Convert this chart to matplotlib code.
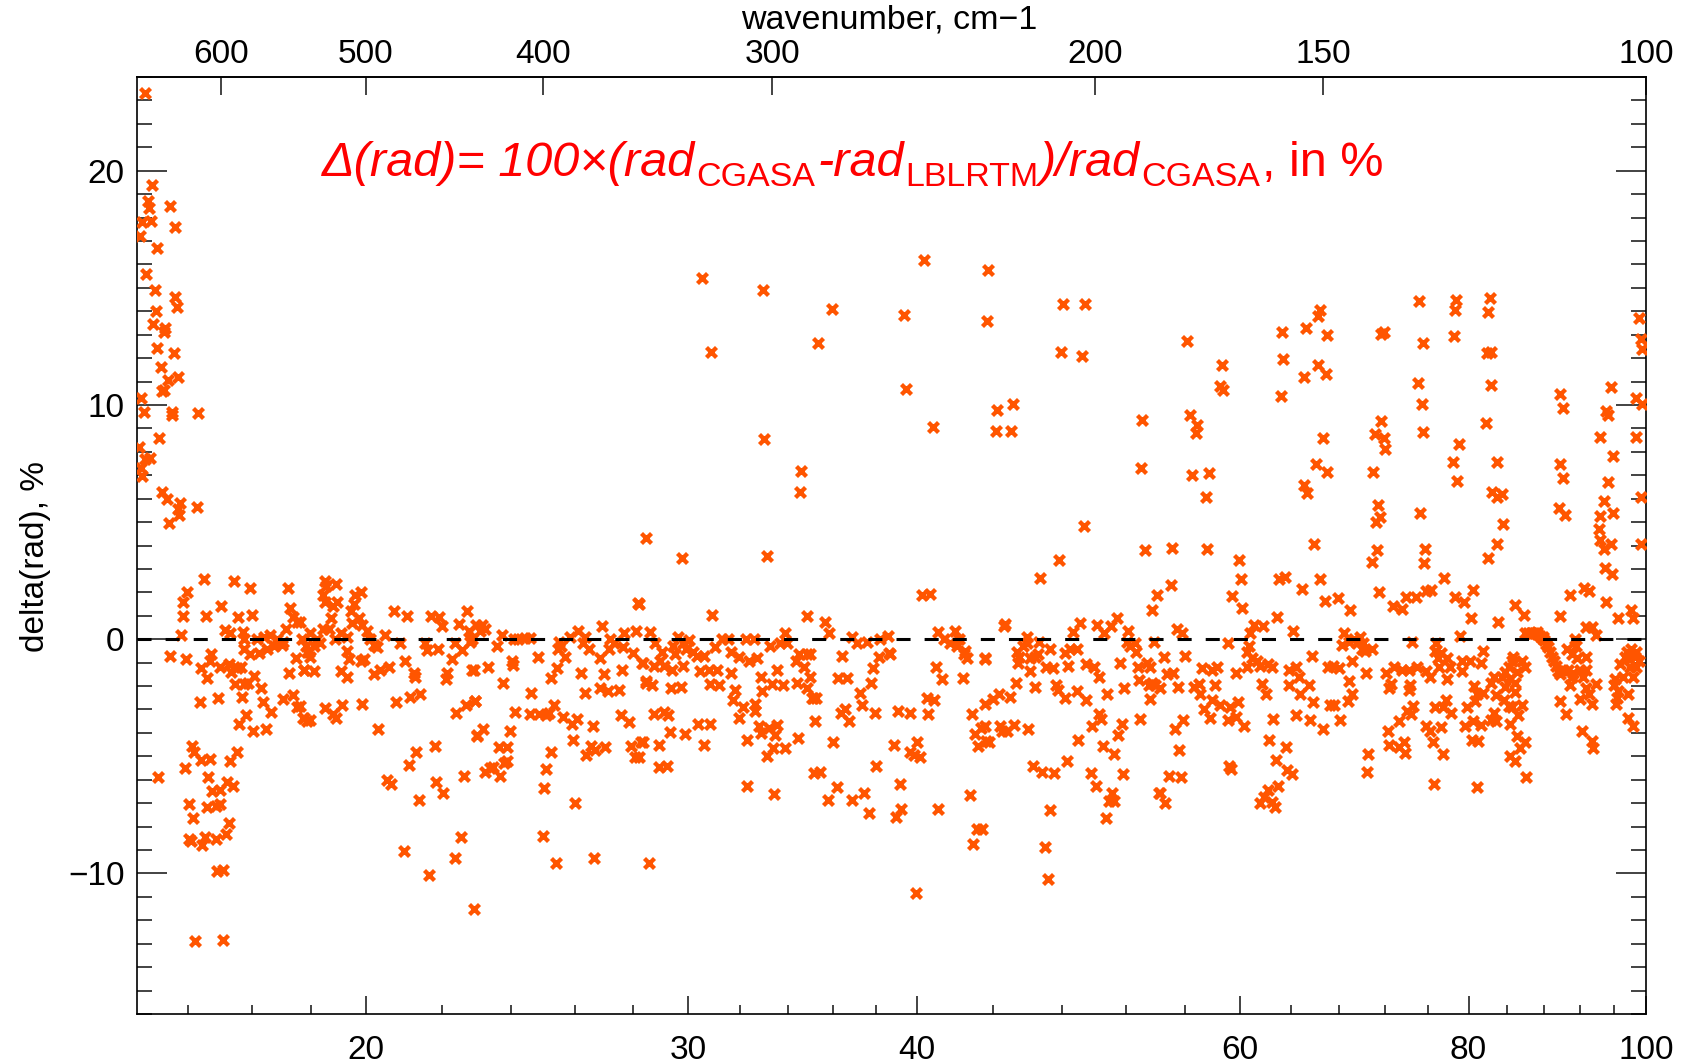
import matplotlib
matplotlib.use('Agg')
import matplotlib.pyplot as plt
import numpy as np
from matplotlib.ticker import FixedLocator, FixedFormatter, NullLocator

plt.rcParams['font.family'] = ['Liberation Sans', 'DejaVu Sans']

# ---------------- data: wavelength (micron) and delta(rad) (%) ----------------
# region 15-16.3 um, large positive outliers
wl_a = [15.15, 15.29, 15.20, 15.22, 15.63, 15.10, 15.26, 15.74, 15.05, 15.39, 15.18, 15.34, 15.73,
        15.77, 15.36, 15.31, 15.53, 15.51, 15.38, 15.71, 15.45, 15.59, 15.80, 15.48, 15.51, 15.07,
        15.13, 15.68, 15.68, 16.19, 15.43, 15.03, 15.16, 15.24, 15.07, 15.10, 15.48, 15.57, 15.84,
        15.80, 15.82, 15.61, 16.17]
dv_a = [23.3, 19.4, 18.7, 18.4, 18.5, 17.8, 17.85, 17.6, 17.2, 16.7, 15.6, 14.9, 14.6,
        14.2, 14.0, 13.45, 13.3, 13.1, 12.45, 12.2, 11.6, 11.05, 11.2, 10.6, 10.65, 10.3,
        9.7, 9.7, 9.55, 9.65, 8.6, 8.2, 7.7, 7.75, 7.3, 6.95, 6.3, 6.0, 5.8,
        5.55, 5.3, 4.95, 5.65]

# region 15.4-18.7 um
wl_b = [16.32, 15.98, 15.90, 15.90, 16.36, 16.68, 16.94, 17.28, 18.13, 18.19, 18.25, 18.35, 17.04,
        17.33, 18.10, 15.86, 16.76, 16.86, 17.14, 17.17, 17.45, 17.59, 17.74, 17.88, 18.03, 17.17,
        17.30, 17.48, 17.67, 17.81, 18.00, 18.46, 18.54, 18.61, 15.64, 15.96, 16.47, 16.45, 16.26,
        16.39, 16.66, 16.83, 16.88, 17.00, 17.09, 16.97, 17.17, 17.24, 17.37, 17.52, 18.16, 18.33,
        18.51, 16.24, 16.61, 17.11, 17.58, 17.75, 17.21, 17.06, 17.35, 17.63, 18.02, 18.25, 18.35,
        18.48, 18.57, 16.07, 16.12, 16.25, 16.45, 15.93, 15.40, 16.86, 17.01, 16.41, 16.80, 16.92,
        16.49, 16.66, 16.02, 16.37, 16.56, 16.64, 16.10, 16.84, 16.78, 16.02, 16.05, 16.33, 16.28,
        16.57, 16.59, 16.71, 16.14, 16.72]
dv_b = [2.55, 2.0, 1.6, 1.0, 1.0, 1.4, 2.5, 2.2, 2.2, 1.35, 0.95, 0.75, 0.95,
        1.05, 0.45, 0.2, 0.4, 0.25, 0.3, 0.0, 0.0, 0.1, 0.2, 0.0, -0.1, -0.4,
        -0.65, -0.6, -0.4, -0.3, -0.25, 0.0, -0.3, -0.55, -0.7, -0.85, -0.65, -0.95, -1.25,
        -1.65, -1.2, -1.05, -1.4, -1.25, -1.2, -1.9, -1.9, -1.85, -1.55, -2.1, -1.45, -0.8,
        -1.3, -2.7, -2.5, -2.45, -2.7, -3.1, -3.25, -3.6, -3.9, -3.85, -2.55, -2.4, -2.9,
        -3.35, -3.5, -4.55, -4.8, -5.15, -5.1, -5.5, -5.9, -5.2, -4.8, -5.9, -6.1, -6.25,
        -6.5, -6.45, -7.05, -7.15, -7.1, -7.05, -7.65, -7.85, -8.3, -8.55, -8.6, -8.45, -8.8,
        -8.55, -9.9, -9.85, -12.9, -12.85]

# region 18.4-23 um
wl_c = [18.99, 19.02, 18.96, 19.00, 19.27, 19.29, 19.19, 19.74, 19.87, 19.70, 19.62, 19.66, 19.91,
        19.82, 19.15, 19.10, 18.96, 18.42, 18.65, 18.81, 18.88, 18.73, 18.57, 18.65, 19.23, 19.39,
        19.54, 20.03, 20.11, 20.48, 20.72, 21.07, 21.72, 21.94, 22.01, 22.72, 22.48, 22.76, 22.98,
        20.89, 21.55, 21.59, 21.90, 22.36, 22.30, 22.58, 22.81, 19.54, 19.58, 19.87, 19.95, 20.21,
        20.29, 21.02, 18.50, 18.73, 19.39, 19.54, 20.20, 20.36, 20.59, 21.24, 21.28, 22.16, 22.12,
        22.86, 18.42, 19.00, 19.27, 19.19, 19.41, 19.91, 18.50, 18.65, 20.30, 20.78, 21.15, 21.42,
        22.41, 22.67, 22.95, 22.99, 21.31, 21.11, 21.81, 20.54, 20.65, 21.84, 22.05, 22.62, 21.37,
        20.98, 22.53, 22.37, 21.66, 22.92]
dv_c = [2.5, 2.25, 1.9, 1.6, 2.35, 1.6, 1.4, 1.9, 2.0, 1.5, 1.2, 0.7, 0.6,
        0.9, 0.9, 0.45, 0.45, 0.75, 0.25, 0.0, -0.15, -0.3, -0.55, -0.75, 0.0, 0.25,
        0.1, 0.35, 0.0, 0.2, 1.2, 1.0, 1.0, 0.95, 0.55, 1.2, 0.65, 0.35, 0.6,
        -0.15, -0.15, -0.45, -0.4, -0.15, -0.85, -0.45, -0.1, -0.5, -0.85, -0.95, -0.85, -0.25,
        -0.35, -0.95, -1.3, -1.35, -1.35, -1.6, -1.5, -1.3, -1.2, -1.45, -1.6, -1.45, -1.7,
        -1.3, -2.85, -2.95, -3.35, -3.2, -2.8, -2.75, -3.35, -3.45, -3.85, -2.7, -2.45, -2.35,
        -3.15, -2.8, -2.65, -4.1, -4.8, -5.35, -4.55, -6.0, -6.2, -6.1, -6.55, -5.85, -6.85,
        -9.05, -8.45, -9.35, -10.05, -11.5]

# region 22.8-28.6 um
wl_d = [23.14, 23.23, 23.09, 22.86, 23.74, 23.60, 24.43, 24.58, 24.23, 24.09, 24.83, 25.49, 25.55,
        25.46, 25.86, 26.13, 26.34, 26.28, 26.49, 26.92, 27.20, 27.14, 26.86, 27.31, 27.68, 27.65,
        28.10, 28.16, 27.99, 28.43, 22.90, 23.32, 24.04, 24.07, 25.68, 25.25, 25.42, 26.20, 26.97,
        26.84, 27.11, 26.34, 27.59, 27.51, 28.35, 28.43, 23.77, 24.63, 22.95, 24.14, 24.58, 24.88,
        25.08, 25.18, 25.33, 25.63, 25.91, 26.07, 26.60, 27.56, 27.85, 23.18, 22.99, 23.97, 25.96,
        23.64, 23.89, 26.55, 26.69, 27.03, 26.39, 27.93, 28.32, 28.04, 25.23, 23.89, 23.79, 23.46,
        23.23, 23.37, 23.67, 25.08, 25.03, 26.02, 24.98, 25.39, 26.63, 28.54]
dv_d = [0.6, 0.45, 0.35, 0.0, 0.2, -0.3, 0.05, 0.05, 0.0, 0.0, -0.75, -0.1, -0.3,
        -0.4, 0.1, 0.35, 0.1, -0.15, -0.4, 0.55, 0.0, -0.4, -0.8, -0.15, 0.25, -0.35,
        0.35, 1.55, -0.6, 4.3, -1.3, -1.2, -0.95, -1.1, -0.75, -1.65, -1.25, -1.45, -1.5,
        -2.1, -2.2, -2.3, -1.3, -2.15, -1.0, -1.8, -1.85, -2.3, -2.65, -3.1, -3.2, -3.2,
        -3.25, -3.15, -2.8, -3.3, -3.6, -3.4, -3.7, -3.25, -3.55, -3.85, -4.15, -3.9, -4.3,
        -4.6, -4.6, -4.55, -4.75, -4.6, -4.95, -4.55, -4.4, -5.05, -4.8, -5.2, -5.3, -5.45,
        -5.65, -5.5, -5.85, -5.55, -6.35, -7.0, -8.4, -9.55, -9.35, -9.55]

# region 28.2-35.4 um
wl_e = [30.53, 32.96, 30.87, 35.33, 33.01, 34.57, 34.54, 29.78, 33.12, 28.21, 30.91, 34.83, 28.60,
        28.78, 29.02, 28.96, 29.44, 29.50, 29.62, 29.80, 29.92, 30.04, 30.16, 30.34, 30.59, 31.03,
        31.29, 31.54, 31.67, 31.99, 32.25, 32.57, 32.37, 32.71, 33.26, 33.68, 33.88, 33.95, 34.34,
        34.47, 34.68, 34.83, 28.30, 28.72, 29.08, 29.38, 29.80, 28.43, 28.66, 29.34, 29.74, 30.46,
        30.78, 31.10, 30.84, 31.16, 31.64, 31.80, 31.74, 32.86, 32.92, 33.33, 33.53, 33.81, 34.38,
        34.83, 35.11, 34.98, 28.72, 29.10, 29.26, 32.12, 31.99, 32.64, 32.64, 28.26, 28.90, 29.32,
        29.89, 30.37, 30.84, 30.59, 32.31, 32.78, 33.19, 33.53, 32.85, 33.46, 33.39, 33.12, 33.88,
        34.43, 28.21, 28.90, 29.20, 35.19, 35.12, 35.41, 32.29, 33.42]
dv_e = [15.4, 14.9, 12.25, 12.65, 8.55, 7.2, 6.3, 3.45, 3.55, 1.5, 1.05, 1.0, 0.3,
        -0.15, -0.55, -0.95, -0.3, -0.65, 0.1, -0.15, -0.4, -0.05, -0.55, -0.7, -0.7, -0.35,
        0.0, 0.0, -0.55, -0.75, 0.0, 0.0, -0.95, -0.8, -0.3, -0.15, 0.25, -0.15, -0.95,
        -0.65, -1.2, -0.65, -1.0, -1.15, -1.15, -1.3, -1.15, -1.85, -1.95, -2.1, -2.05, -1.35,
        -1.3, -1.3, -1.9, -1.95, -1.45, -2.15, -2.6, -1.6, -2.2, -1.9, -1.3, -1.95, -1.85,
        -2.1, -2.5, -1.6, -3.2, -3.1, -3.25, -2.9, -3.35, -2.75, -3.05, -4.4, -4.5, -3.95,
        -4.05, -3.6, -3.6, -4.5, -4.3, -3.7, -3.8, -3.65, -4.0, -4.1, -4.65, -5.0, -4.65,
        -4.2, -5.05, -5.45, -5.4, -3.5, -5.7, -5.65, -6.25, -6.6]

# region 35-44 um
wl_f = [40.32, 43.72, 35.92, 39.33, 43.67, 39.45, 40.79, 40.24, 40.66, 35.63, 35.82, 36.86, 37.09,
        37.55, 38.17, 38.55, 38.63, 41.06, 41.38, 41.71, 41.97, 42.15, 42.06, 42.50, 42.59, 42.44,
        43.55, 34.98, 35.05, 35.24, 36.41, 37.83, 37.75, 38.12, 38.67, 36.22, 36.61, 37.24, 37.32,
        36.37, 36.52, 36.71, 37.93, 39.06, 39.63, 40.55, 40.49, 40.85, 40.94, 41.29, 42.35, 42.85,
        43.02, 43.32, 43.19, 43.63, 43.55, 35.99, 38.86, 39.66, 39.99, 40.12, 39.82, 38.00, 36.17,
        35.76, 36.86, 37.43, 37.63, 39.14, 38.94, 39.20, 41.06, 42.73, 43.11, 43.38, 42.90, 39.94]
dv_f = [16.2, 15.75, 14.1, 13.85, 13.6, 10.7, 9.05, 1.9, 1.95, 0.75, 0.25, 0.1, -0.15,
        -0.1, 0.0, 0.15, -0.6, 0.3, 0.0, -0.15, 0.35, 0.0, -0.3, -0.5, -0.8, -0.65,
        -0.8, -0.65, -2.5, -2.5, -0.7, -1.25, -1.85, -0.75, -0.65, -1.65, -1.65, -2.3, -2.8,
        -3.15, -3.0, -3.5, -3.15, -3.05, -3.15, -3.2, -2.5, -2.6, -1.2, -1.7, -1.65, -3.2,
        -4.05, -3.8, -4.55, -4.35, -2.75, -4.4, -4.5, -4.8, -4.4, -5.05, -4.95, -5.4, -6.3,
        -6.85, -6.85, -6.55, -7.4, -6.2, -7.6, -7.25, -7.25, -6.65, -8.1, -8.1, -8.75, -10.85]

# region 43.5-54 um
wl_g = [48.04, 49.39, 47.93, 49.19, 44.24, 45.12, 44.15, 45.02, 53.06, 52.97, 49.31, 47.83, 46.68,
        53.24, 54.08, 53.74, 44.69, 44.59, 45.90, 45.34, 45.49, 45.43, 46.08, 46.36, 46.55, 46.60,
        45.71, 45.90, 47.25, 47.01, 47.45, 48.18, 48.48, 48.88, 48.64, 49.11, 50.16, 51.04, 51.42,
        52.11, 52.05, 52.26, 52.69, 52.63, 50.61, 53.90, 43.54, 46.08, 46.36, 48.38, 49.47, 49.96,
        50.26, 51.63, 52.79, 52.89, 53.42, 53.52, 53.74, 53.97, 53.63, 45.30, 47.65, 47.72, 48.14,
        48.88, 49.47, 50.78, 51.87, 44.32, 43.98, 44.93, 43.54, 44.41, 44.50, 44.78, 45.15, 45.99,
        43.78, 50.26, 50.40, 49.86, 51.74, 48.97, 50.53, 51.52, 51.20, 52.95, 48.32, 46.26, 46.77,
        47.51, 49.76, 50.06, 51.83, 51.09, 51.20, 50.88, 50.72, 54.19, 47.29, 46.95, 47.14]
dv_g = [14.3, 14.3, 12.25, 12.1, 9.8, 10.05, 8.9, 8.9, 9.35, 7.3, 4.85, 3.4, 2.6,
        3.8, 1.9, 1.25, 0.65, 0.55, 0.1, -0.55, -0.75, -1.0, -0.8, -0.75, -0.65, -0.1,
        -0.3, -0.15, -0.4, -1.2, -1.25, -0.6, -0.4, -0.4, 0.3, 0.7, 0.6, 0.55, 0.9,
        0.35, -0.1, -0.3, -0.55, -0.15, 0.25, -0.1, -0.85, -1.35, -2.05, -1.15, -1.05, -1.2,
        -1.6, -1.0, -1.2, -1.75, -1.0, -1.95, -1.85, -1.95, -2.55, -1.85, -1.95, -2.15, -2.5,
        -2.2, -2.6, -2.35, -2.1, -2.35, -2.55, -2.45, -3.7, -3.7, -3.9, -3.9, -3.65, -3.85,
        -4.4, -3.2, -3.4, -3.7, -3.6, -4.3, -4.55, -4.1, -4.9, -3.4, -5.2, -5.4, -5.65,
        -5.7, -5.7, -6.25, -5.75, -6.55, -6.9, -6.9, -7.65, -6.55, -7.3, -8.85, -10.25]

# region 53.6-67.2 um
wl_h = [56.17, 58.66, 58.54, 58.78, 56.38, 56.88, 56.77, 56.48, 57.75, 57.53, 55.09, 57.62, 55.02,
        59.96, 60.09, 59.41, 60.16, 55.43, 55.77, 54.53, 55.99, 53.63, 54.30, 54.76, 55.20, 55.54,
        56.65, 56.99, 57.10, 57.34, 57.22, 57.94, 58.30, 58.17, 57.94, 57.82, 59.12, 59.72, 58.54,
        59.26, 59.89, 59.14, 59.72, 60.33, 60.81, 61.06, 61.82, 60.69, 60.57, 60.94, 61.32, 60.57,
        61.57, 62.21, 62.47, 62.86, 64.14, 65.70, 61.70, 62.03, 63.85, 64.40, 64.62, 63.85, 64.75,
        65.43, 65.83, 67.06, 67.19, 62.59, 64.37, 65.56, 66.65, 55.88, 55.31, 55.61, 62.29, 63.59,
        62.82, 54.87, 55.70, 59.20, 59.38, 63.64, 64.04, 62.98, 54.30, 54.64, 62.21, 61.83, 61.57,
        62.75, 62.47, 63.24, 63.36, 63.18, 65.24, 65.02, 66.37, 66.24, 66.97, 66.19, 66.87, 66.60,
        66.05, 66.93, 65.07, 65.29, 65.91, 66.37, 66.78, 63.03, 63.50, 64.89]
dv_h = [12.75, 11.7, 10.8, 10.65, 9.55, 9.15, 8.8, 7.0, 7.1, 6.05, 3.9, 3.85, 2.3,
        3.4, 2.55, 1.85, 1.35, 0.45, 0.25, -0.75, -0.7, -1.2, -2.1, -1.5, -1.45, -2.05,
        -2.05, -1.9, -2.35, -3.0, -1.25, -1.3, -1.2, -1.95, -2.6, -3.35, -0.15, -1.45, -2.8,
        -2.9, -2.7, -3.45, -3.3, -3.7, 0.25, 0.6, 0.55, -0.3, -0.55, -0.8, -0.95, -1.2,
        -1.15, -1.05, -1.2, 0.95, 0.35, -0.7, -1.9, -2.35, -1.3, -1.2, -1.6, -1.95, -2.35,
        -1.95, -2.7, -1.2, -2.8, -3.4, -3.25, -3.45, -3.85, -3.45, -3.85, -4.75, -4.3, -4.6,
        -5.15, -5.85, -5.9, -5.4, -5.55, -5.6, -5.75, -6.25, -6.55, -7.0, -6.45, -6.75, -7.0,
        -7.15, -6.95, 13.1, 11.95, 10.4, 13.3, 11.2, 14.05, 13.8, 13.0, 11.7, 11.3, 8.6,
        7.5, 7.15, 6.6, 6.25, 4.05, 2.55, 1.65, 2.55, 2.65, 2.15]

# region 67.5-83 um
wl_i = [71.70, 71.98, 75.20, 75.52, 75.11, 75.42, 78.78, 78.61, 78.51, 82.21, 81.95, 81.88, 82.28,
        71.70, 71.12, 71.90, 72.07, 81.78, 75.58, 79.01, 78.45, 78.85, 70.92, 71.41, 71.21, 71.62,
        75.27, 82.93, 82.37, 82.93, 71.27, 70.83, 75.73, 75.64, 81.98, 67.87, 68.95, 71.49, 72.79,
        73.58, 73.97, 74.90, 75.82, 76.35, 77.58, 78.68, 79.50, 80.22, 80.48, 82.99, 74.50, 79.17,
        68.40, 68.27, 68.81, 69.24, 69.53, 69.82, 70.10, 69.96, 70.25, 70.83, 76.82, 76.66, 76.97,
        77.28, 81.46, 81.30, 67.46, 67.99, 69.10, 68.81, 70.31, 72.13, 72.85, 72.56, 72.42, 73.58,
        74.19, 74.34, 74.96, 74.19, 75.88, 76.19, 77.12, 77.89, 78.19, 77.82, 79.34, 80.16, 79.34,
        80.55, 80.81, 81.47, 82.60, 82.77, 68.72, 69.10, 67.59, 68.08, 72.27, 72.35, 73.27, 74.03,
        74.65, 74.40, 73.27, 73.73, 73.88, 75.88, 76.19, 76.66, 77.43, 77.74, 78.26, 77.28, 76.50,
        77.43, 79.67, 80.48, 81.31, 79.83, 80.65, 80.32, 80.97, 82.60, 82.77, 70.46, 70.40, 76.56,
        80.88]
dv_i = [13.05, 13.1, 14.45, 12.65, 10.95, 10.05, 14.5, 14.05, 12.95, 14.55, 13.95, 12.2, 10.85,
        9.3, 8.75, 8.6, 8.1, 9.25, 8.85, 8.35, 7.55, 6.75, 7.15, 5.75, 5.0, 5.2,
        5.4, 7.55, 6.3, 6.05, 3.8, 3.3, 3.85, 3.25, 3.45, 1.75, 1.25, 2.0, 1.4,
        1.3, 1.8, 1.8, 2.05, 2.1, 2.6, 1.8, 1.6, 0.9, 2.1, 0.75, -0.1, 0.15,
        0.25, -0.25, -0.1, 0.0, -0.15, 0.1, -0.15, -0.4, -0.5, -0.4, -0.15, -0.5, -0.8,
        -0.6, -0.5, -1.0, -1.15, -1.25, -0.95, -1.8, -1.45, -1.45, -1.2, -1.9, -2.1, -1.3,
        -1.3, -1.95, -1.2, -2.15, -1.35, -1.6, -1.2, -0.8, -1.2, -1.7, -0.95, -0.95, -1.35,
        -2.0, -2.35, -2.3, -1.6, -2.4, -2.65, -2.35, -2.8, -3.45, -3.9, -4.5, -3.5, -3.05,
        -2.85, -3.2, -4.6, -4.4, -4.85, -3.7, -3.9, -2.9, -2.9, -2.6, -3.15, -3.75, -4.4,
        -4.9, -3.7, -3.5, -3.65, -2.9, -2.65, -4.3, -4.35, -3.15, -3.5, -4.9, -5.65, -6.2,
        -6.3]

# region 82-100 um
wl_j = [82.28, 83.44, 83.54, 82.93, 84.80, 85.77, 86.65, 87.17, 87.86,
        85.90, 86.21, 86.55, 86.88, 87.21, 87.55, 87.77, 87.99, 88.21, 88.44, 88.66, 88.88, 89.11,
        89.33, 89.55, 89.77,
        84.65, 84.48, 84.13, 83.78, 83.44, 82.28, 85.54, 85.88, 85.01, 84.83, 84.31, 83.78, 83.61,
        84.13, 84.48, 84.83, 85.54, 85.18, 82.28, 84.31, 85.01, 85.88, 85.36, 84.83, 84.31, 85.99,
        89.70, 90.44, 89.77, 90.89, 89.77, 90.08, 89.70, 90.14, 89.59, 90.33, 90.52, 91.08, 91.63,
        91.45, 91.70, 90.14, 90.70, 91.26, 92.00, 92.75, 92.75, 92.38, 90.89, 91.08, 92.00, 92.75,
        93.12, 93.49, 93.86, 92.31, 93.49, 93.57, 92.49, 93.12, 92.75, 93.49, 93.93, 94.41, 95.39,
        95.12, 95.68, 95.92, 95.28, 94.80, 95.99, 94.33, 94.22, 94.33, 94.80, 95.68, 95.00, 95.80,
        95.12, 96.58, 98.17, 98.44, 96.19, 96.39, 96.31, 96.07, 96.58, 96.78, 97.38, 97.58, 97.77,
        97.17, 97.97, 98.37, 98.77, 98.77, 99.16, 98.17, 98.57, 97.77, 97.77, 98.37, 99.16, 99.36,
        99.48, 98.77, 99.56, 98.77, 99.36, 99.36]
dv_j = [12.25, 6.2, 4.9, 4.05, 1.45, 1.05, 0.25, 0.3, 0.1,
        0.25, 0.25, 0.25, 0.25, 0.22, 0.15, 0.05, -0.05, -0.2, -0.35, -0.55, -0.75, -0.95,
        -1.15, -1.35, -1.5,
        -0.75, -0.95, -1.2, -1.4, -1.6, -1.85, -0.95, -1.2, -1.4, -1.85, -1.7, -2.05, -2.6,
        -2.85, -2.9, -2.25, -2.8, -3.25, -3.45, -3.6, -4.15, -4.4, -4.65, -5.2, -5.0, -5.9,
        -2.65, -3.2, 1.0, 1.9, 10.45, 9.85, 7.5, 6.9, 5.6, 5.3, -0.4, -0.65, -0.3,
        0.0, -0.8, -1.3, -1.3, -1.45, -1.3, -0.75, -1.3, -1.6, -1.95, -1.6, -2.55, -2.1,
        -2.35, -2.75, -1.9, -3.9, -4.35, -4.65, 2.2, 2.05, 0.5, 0.5, 0.2, 8.65, 9.55,
        9.75, 10.75, 7.8, 6.7, 5.9, 5.4, 5.25, 4.7, 4.25, 3.85, 4.05, 3.05, 2.8,
        1.6, 0.9, 1.25, 0.9, -1.7, -2.5, -2.75, -1.95, -2.2, -1.05, -0.75, -0.55, -0.8,
        -1.6, -1.2, -1.6, -0.55, -1.2, -0.95, -0.4, -0.75, -2.35, -3.35, -3.7, 13.7, 12.8,
        12.4, 10.3, 10.05, 8.65, 6.05, 4.05]

# axes ticks
x_major = [20, 30, 40, 60, 80, 100]
x_major_labels = ['20', '30', '40', '60', '80', '100']
x_minor = [16, 17.333, 18.667, 22, 24, 26, 28, 32, 34, 36, 38, 44, 48, 52, 56,
           64, 68, 72, 76, 84, 88, 92, 96]
wn_major = [600, 500, 400, 300, 200, 150, 100]
wn_labels = ['600', '500', '400', '300', '200', '150', '100']
y_major = [-10, 0, 10, 20]
y_major_labels = ['\u221210', '0', '10', '20']

wl = np.concatenate([wl_a, wl_b, wl_c, wl_d, wl_e, wl_f, wl_g, wl_h, wl_i, wl_j])
dv = np.concatenate([dv_a, dv_b, dv_c, dv_d, dv_e, dv_f, dv_g, dv_h, dv_i, dv_j])

# ---------------- figure ----------------
W, H = 1695, 1064
fig = plt.figure(figsize=(W / 100, H / 100), dpi=100)
ax = fig.add_axes([137 / W, 1 - 1014 / H, (1646 - 137) / W, (1014 - 77) / H])

ax.scatter(wl, dv, marker='x', s=52, linewidths=3.1, color='#ff5500', zorder=3)
ax.axhline(0, color='black', lw=2.2, ls=(0, (4.6, 4.6)), zorder=4)

ax.set_xscale('log')
ax.set_xlim(15, 100)
ax.set_ylim(-16, 24)

ax.xaxis.set_major_locator(FixedLocator(x_major))
ax.xaxis.set_major_formatter(FixedFormatter(x_major_labels))
ax.xaxis.set_minor_locator(FixedLocator(x_minor))
ax.xaxis.set_minor_formatter(FixedFormatter([''] * len(x_minor)))
ax.yaxis.set_major_locator(FixedLocator(y_major))
ax.yaxis.set_major_formatter(FixedFormatter(y_major_labels))
ax.yaxis.set_minor_locator(FixedLocator(list(range(-16, 25))))

ax.tick_params(axis='x', which='both', direction='in', bottom=True, top=False,
               labelsize=24, pad=15, width=1.2, color='#222222')
ax.tick_params(axis='x', which='major', length=13)
ax.tick_params(axis='x', which='minor', length=6.5)
ax.tick_params(axis='y', which='both', direction='in', left=True, right=True,
               labelsize=24, pad=9, width=1.2, color='#222222')
ax.tick_params(axis='y', which='major', length=21.6)
ax.tick_params(axis='y', which='minor', length=10.8)
for s in ax.spines.values():
    s.set_linewidth(1.2)

sec = ax.secondary_xaxis('top', functions=(lambda x: 1e4 / np.asarray(x, float),
                                           lambda x: 1e4 / np.asarray(x, float)))
sec.xaxis.set_major_locator(FixedLocator(wn_major))
sec.xaxis.set_major_formatter(FixedFormatter(wn_labels))
sec.xaxis.set_minor_locator(NullLocator())
sec.tick_params(axis='x', which='major', direction='in', length=13, width=1.2,
                labelsize=24, pad=5, color='#222222')
sec.spines['top'].set_linewidth(1.2)

ax.set_ylabel('delta(rad), %', fontsize=24)
ax.yaxis.set_label_coords(-0.057, 0.488)
fig.text(889 / W, 1 - 20 / H, 'wavenumber, cm\u22121', fontsize=24.5, ha='center', va='center')

# title built from pieces (italic main text, upright subscripts)
pieces = [('\u0394(rad)= 100\u00d7(rad', 'italic', 35, 0),
          ('CGASA', 'normal', 24.5, -10),
          ('-rad', 'italic', 35, 0),
          ('LBLRTM', 'normal', 24.5, -10),
          (')/rad', 'italic', 35, 0),
          ('CGASA', 'normal', 24.5, -10),
          (', in %', 'normal', 35, 0)]
renderer = fig.canvas.get_renderer()
xpix = 322
base = H - 176
for txt, style, size, dy in pieces:
    t = fig.text(xpix / W, (base + dy) / H, txt, fontsize=size, fontstyle=style,
                 color='red', ha='left', va='baseline')
    bb = t.get_window_extent(renderer)
    xpix = bb.x1 + 1.5

fig.savefig('out.png', dpi=100)
